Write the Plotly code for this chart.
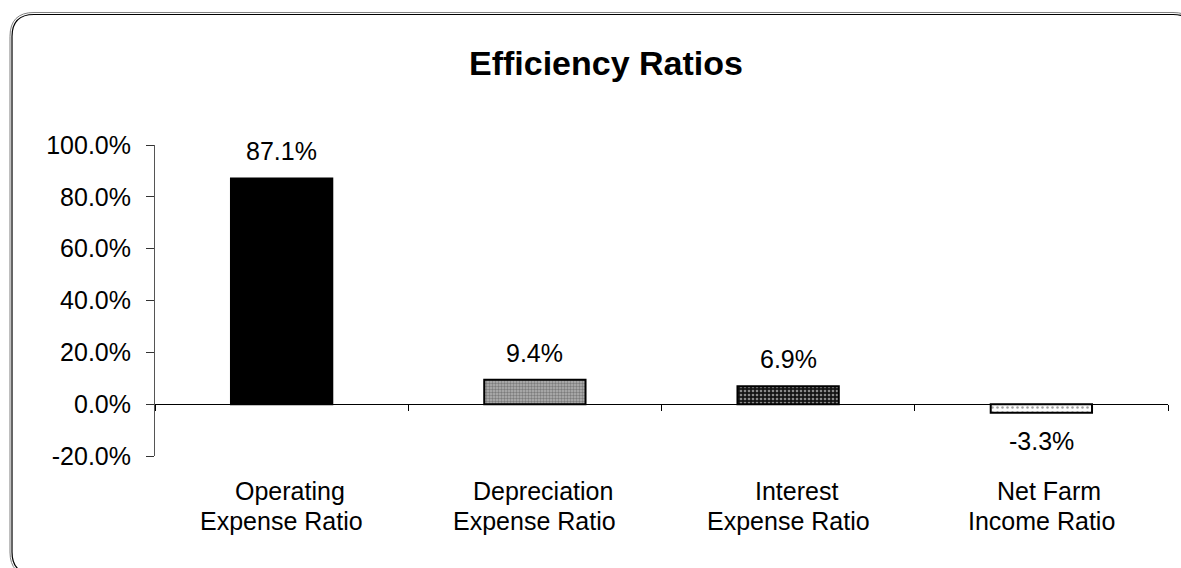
import plotly.graph_objects as go

# ---- data ----
cat_line1 = ["Operating", "Depreciation", "Interest", "Net Farm"]
cat_line2 = ["Expense Ratio", "Expense Ratio", "Expense Ratio", "Income Ratio"]
values = [87.1, 9.4, 6.9, -3.3]
y_ticks = [-20, 0, 20, 40, 60, 80, 100]
title_text = "Efficiency Ratios"

W, H = 1181, 568
ML, MR, MT, MB = 155, 13, 145, 112
PW, PH = W - ML - MR, H - MT - MB
FONT = "Liberation Sans, Arial, sans-serif"
y_min, y_max = y_ticks[0], y_ticks[-1]

idx = list(range(len(values)))

fig = go.Figure()
fig.add_trace(go.Bar(
    x=idx,
    y=values,
    width=0.4,
    marker=dict(
        color=["#000000", "#b4b4b4", "#141414", "#ffffff"],
        line=dict(color="#000000", width=2),
        pattern=dict(
            shape=["", ".", ".", "."],
            fgcolor=["#000000", "#3a3a3a", "#a0a0a0", "#555555"],
            size=[8, 3, 4, 5],
            solidity=[0.3, 0.5, 0.35, 0.2],
        ),
    ),
    hoverinfo="skip",
))

# data labels
for i, v in zip(idx, values):
    fig.add_annotation(
        x=i, y=v, xref="x", yref="y",
        text=f"{v:.1f}%", showarrow=False,
        yanchor="bottom" if v >= 0 else "top",
        yshift=11 if v >= 0 else -12,
        font=dict(family=FONT, size=25, color="#000000"),
    )

# category labels (two lines)
for i, (l1, l2) in enumerate(zip(cat_line1, cat_line2)):
    fig.add_annotation(x=i, y=0, xref="x", yref="paper", text=l1, showarrow=False,
                       yanchor="middle", yshift=-35, xshift=8,
                       font=dict(family=FONT, size=25, color="#000000"))
    fig.add_annotation(x=i, y=0, xref="x", yref="paper", text=l2, showarrow=False,
                       yanchor="middle", yshift=-65,
                       font=dict(family=FONT, size=25, color="#000000"))

# rounded double border (decoration)
def px2paper(px, py):
    return (px - ML) / PW, (H - MB - py) / PH

def rounded_path(x0, y0, x1, y1, r):
    def P(x, y):
        a, b = px2paper(x, y)
        return f"{a:.5f},{b:.5f}"
    d = f"M {P(x0 + r, y0)} L {P(x1 - r, y0)} Q {P(x1, y0)} {P(x1, y0 + r)} "
    d += f"L {P(x1, y1 - r)} Q {P(x1, y1)} {P(x1 - r, y1)} "
    d += f"L {P(x0 + r, y1)} Q {P(x0, y1)} {P(x0, y1 - r)} "
    d += f"L {P(x0, y0 + r)} Q {P(x0, y0)} {P(x0 + r, y0)} Z"
    return d

fig.add_shape(type="path", xref="paper", yref="paper",
              path=rounded_path(10, 12.5, 1197, 576, 24),
              line=dict(color="#808080", width=1), layer="below")
fig.add_shape(type="path", xref="paper", yref="paper",
              path=rounded_path(12, 14.5, 1195, 574, 22),
              line=dict(color="#000000", width=1.2), layer="below")

fig.update_layout(
    width=W, height=H,
    margin=dict(l=ML, r=MR, t=MT, b=MB, pad=0),
    paper_bgcolor="white", plot_bgcolor="white",
    showlegend=False,
    title=dict(text=f"<b>{title_text}</b>", x=606 / W, xref="container", xanchor="center",
               y=1 - 63 / H, yref="container", yanchor="middle",
               font=dict(family=FONT, size=34, color="#000000")),
    xaxis=dict(
        range=[-0.5, len(values) - 0.5],
        anchor="free", position=(0 - y_min) / (y_max - y_min),
        showline=True, linecolor="#000000", linewidth=1,
        tickmode="array", tickvals=[i - 0.5 for i in range(len(values) + 1)],
        ticks="outside", ticklen=6, tickcolor="#000000",
        showticklabels=False, showgrid=False, zeroline=False,
    ),
    yaxis=dict(
        range=[y_min, y_max],
        tickmode="array", tickvals=y_ticks,
        ticktext=[f"{t:.1f}%" for t in y_ticks],
        ticks="outside", ticklen=8, tickcolor="#333333",
        showline=True, linecolor="#555555", linewidth=1,
        showgrid=False, zeroline=False,
        ticklabelstandoff=10,
        tickfont=dict(family=FONT, size=25, color="#000000"),
    ),
)

fig.write_html("out.html")
